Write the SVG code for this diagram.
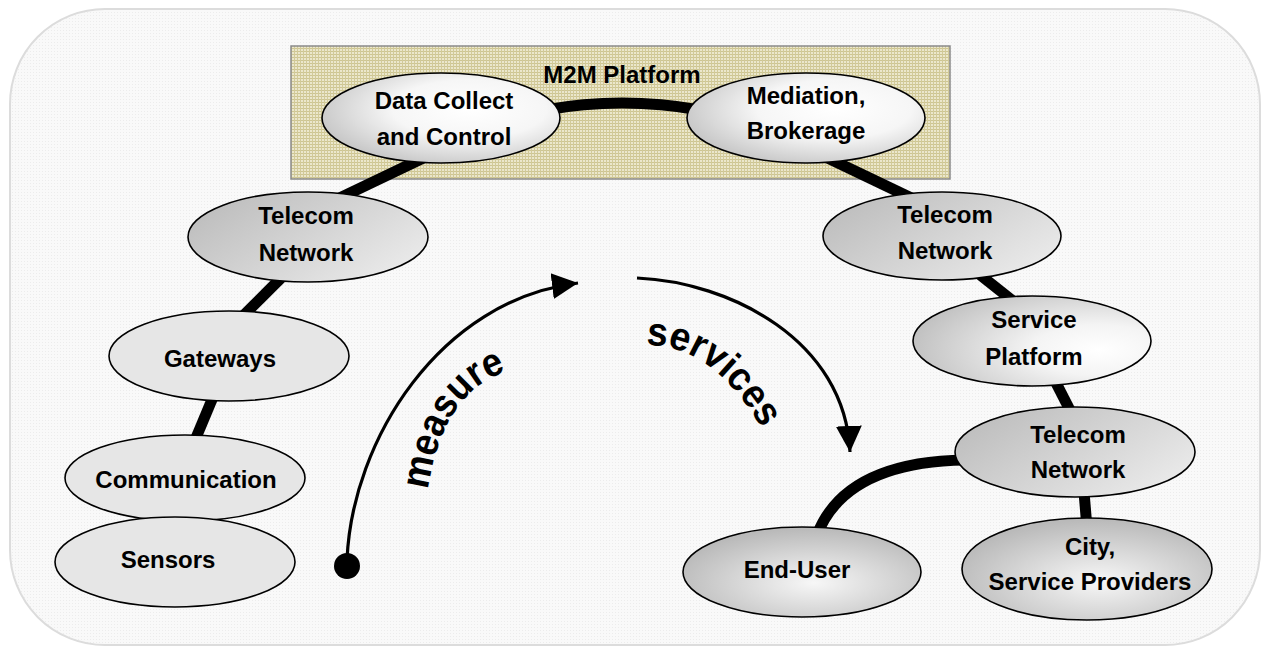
<svg xmlns="http://www.w3.org/2000/svg" width="1261" height="648" viewBox="0 0 1261 648">
<defs>
<style>
.lbl{font-family:"Liberation Sans",Arial,sans-serif;font-weight:bold;font-size:24px;fill:#000;text-anchor:middle}
.arc{font-family:"Liberation Sans",Arial,sans-serif;font-weight:bold;font-size:40px;fill:#000}
.node{stroke:#000;stroke-width:1.6}
.pipe{fill:none;stroke:#000;stroke-width:11;stroke-linecap:butt}
.flow{fill:none;stroke:#000;stroke-width:3.2}
</style>
<pattern id="bgGrid" width="3" height="3" patternUnits="userSpaceOnUse">
<rect width="3" height="3" fill="#f9f9f9"/>
<rect width="1" height="1" fill="#ececec"/>
</pattern>
<pattern id="m2mGrid" width="3" height="3" patternUnits="userSpaceOnUse">
<rect width="3" height="3" fill="#ebe7cc"/>
<rect width="3" height="1" fill="#cdc592"/>
<rect width="1" height="3" fill="#d2ca99"/>
</pattern>
<radialGradient id="gWhite" cx="0.62" cy="0.4" r="0.72">
<stop offset="0" stop-color="#ffffff"/>
<stop offset="0.45" stop-color="#f6f6f6"/>
<stop offset="1" stop-color="#bdbdbd"/>
</radialGradient>
<linearGradient id="gTele" x1="0" y1="0.2" x2="1" y2="0.8">
<stop offset="0" stop-color="#bcbcbc"/>
<stop offset="1" stop-color="#ececec"/>
</linearGradient>
<radialGradient id="gService" cx="0.78" cy="0.6" r="0.8">
<stop offset="0" stop-color="#ffffff"/>
<stop offset="0.35" stop-color="#f4f4f4"/>
<stop offset="1" stop-color="#c0c0c0"/>
</radialGradient>
<radialGradient id="gRad" cx="0.55" cy="0.62" r="0.6">
<stop offset="0" stop-color="#f7f7f7"/>
<stop offset="1" stop-color="#bababa"/>
</radialGradient>
<marker id="arrow" markerUnits="userSpaceOnUse" markerWidth="28" markerHeight="28" refX="26" refY="13" orient="auto" viewBox="0 0 28 26">
<path d="M0 0 L26 13 L0 26 Z" fill="#000"/>
</marker>
<path id="measurePath" d="M 428 490 Q 443 388 512 370"/>
<path id="servicesPath" d="M 646 345 Q 716 345 766 436"/>
</defs>

<rect id="background" x="10" y="9" width="1250" height="636" rx="95" ry="95" fill="url(#bgGrid)" stroke="#dcdcdc" stroke-width="2"/>

<g id="m2m-platform">
<rect x="291" y="46" width="659" height="133" fill="url(#m2mGrid)" stroke="#8a8a8a" stroke-width="1.5"/>
<text class="lbl" x="622" y="83">M2M Platform</text>
</g>

<g id="connectors">
<path class="pipe" d="M 545 110 Q 622 96 700 110"/>
<path class="pipe" d="M 440 150 L 325 205"/>
<path class="pipe" d="M 289 270 L 234 325"/>
<path class="pipe" d="M 216 390 L 193 445"/>
<path class="pipe" d="M 811 150 L 926 205"/>
<path class="pipe" d="M 974 270 L 1018 305"/>
<path class="pipe" d="M 1052 375 L 1075 420"/>
<path class="pipe" d="M 1083 480 L 1088 540"/>
<path class="pipe" d="M 817 535 Q 845 462 965 460"/>
<path class="flow" d="M 347 560 C 352 440 440 300 578 283" marker-end="url(#arrow)"/>
<circle cx="347" cy="566" r="13" fill="#000"/>
<path class="flow" d="M 637 278 C 730 282 845 340 850 452" marker-end="url(#arrow)"/>
</g>

<g id="label-measure">
<text class="arc"><textPath href="#measurePath" textLength="150" lengthAdjust="spacingAndGlyphs">measure</textPath></text>
</g>
<g id="label-services">
<text class="arc"><textPath href="#servicesPath" textLength="150" lengthAdjust="spacingAndGlyphs">services</textPath></text>
</g>

<g id="node-data-collect">
<ellipse class="node" cx="441" cy="118" rx="119" ry="45" fill="url(#gWhite)"/>
<text class="lbl" x="444" y="109">Data Collect</text>
<text class="lbl" x="444" y="145">and Control</text>
</g>
<g id="node-mediation">
<ellipse class="node" cx="806" cy="118" rx="119" ry="45" fill="url(#gWhite)"/>
<text class="lbl" x="806" y="104">Mediation,</text>
<text class="lbl" x="806" y="139">Brokerage</text>
</g>
<g id="node-telecom-left">
<ellipse class="node" cx="308" cy="237" rx="120" ry="45" fill="url(#gTele)"/>
<text class="lbl" x="306" y="224">Telecom</text>
<text class="lbl" x="306" y="261">Network</text>
</g>
<g id="node-gateways">
<ellipse class="node" cx="229" cy="356" rx="120" ry="45" fill="#e6e6e6"/>
<text class="lbl" x="220" y="367">Gateways</text>
</g>
<g id="node-communication">
<ellipse class="node" cx="185" cy="478" rx="120" ry="43" fill="#e6e6e6"/>
<text class="lbl" x="186" y="488">Communication</text>
</g>
<g id="node-sensors">
<ellipse class="node" cx="175" cy="562" rx="120" ry="45" fill="#e6e6e6"/>
<text class="lbl" x="168" y="568">Sensors</text>
</g>
<g id="node-telecom-right">
<ellipse class="node" cx="942" cy="236" rx="119" ry="44" fill="url(#gTele)"/>
<text class="lbl" x="945" y="223">Telecom</text>
<text class="lbl" x="945" y="259">Network</text>
</g>
<g id="node-service-platform">
<ellipse class="node" cx="1032" cy="341" rx="119" ry="45" fill="url(#gService)"/>
<text class="lbl" x="1034" y="328">Service</text>
<text class="lbl" x="1034" y="365">Platform</text>
</g>
<g id="node-telecom-bottom">
<ellipse class="node" cx="1075" cy="452" rx="120" ry="45" fill="url(#gTele)"/>
<text class="lbl" x="1078" y="443">Telecom</text>
<text class="lbl" x="1078" y="478">Network</text>
</g>
<g id="node-end-user">
<ellipse class="node" cx="802" cy="572" rx="119" ry="45" fill="url(#gRad)"/>
<text class="lbl" x="797" y="578">End-User</text>
</g>
<g id="node-city">
<ellipse class="node" cx="1087" cy="569" rx="125" ry="51" fill="url(#gRad)"/>
<text class="lbl" x="1090" y="555">City,</text>
<text class="lbl" x="1090" y="590">Service Providers</text>
</g>
</svg>
